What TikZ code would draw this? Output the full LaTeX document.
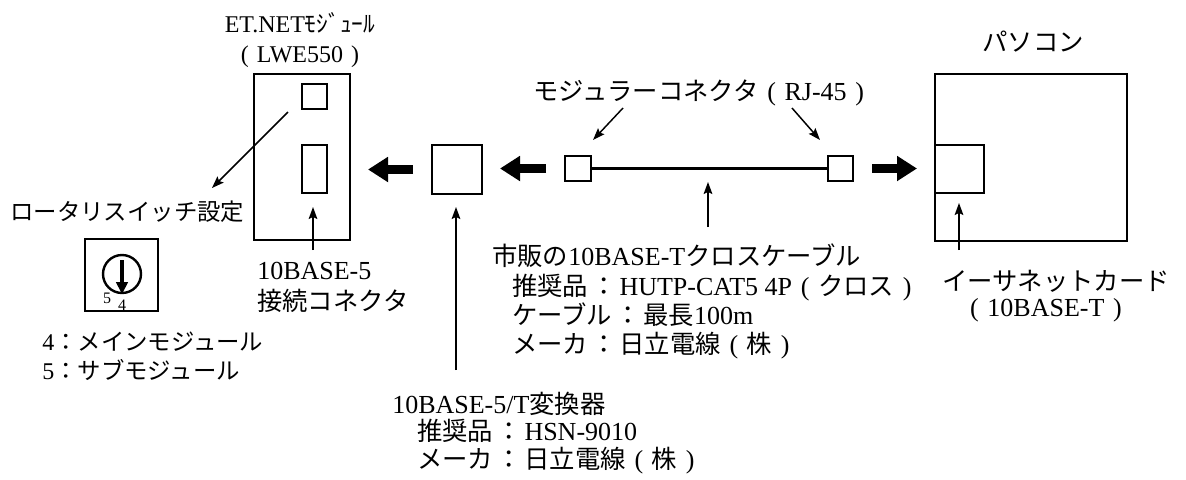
\documentclass[tikz,border=0pt]{standalone}
\usepackage{fontspec}
\setmainfont{Liberation Serif}
\newfontfamily\jp[Scale=0.975]{Noto Sans CJK JP}
\usetikzlibrary{arrows.meta,fit}
\newcommand\J[1]{{\jp #1}}
\newcommand\LP{\makebox[1.0em]{(}}
\newcommand\RP{\makebox[1.0em]{)}}
\newcommand\CO{\makebox[1.2em]{\jp ：}}
\begin{document}
\begin{tikzpicture}[x=0.75pt,y=-0.75pt,
  box/.style={draw, line width=2pt, inner sep=0pt, outer sep=0pt},
  thinarr/.style={line width=1.1pt, -{Stealth[length=9pt,width=6.5pt,inset=1.5pt]}},
  fatarr/.style={line width=6.75pt, -{Triangle[length=15pt,width=18pt]}, shorten >=13.5pt, shorten <=14.25pt},
  lbl/.style={inner sep=0pt, anchor=base west, font=\fontsize{19.5}{22}\selectfont},
  lbls/.style={lbl, font=\fontsize{18}{20}\selectfont},
  small/.style={inner sep=0pt, font=\fontsize{12}{12}\selectfont},
]
\useasboundingbox (0,0) rectangle (1186,479);

% boxes
\node[box, fit={(254,74) (350,240)}] (mod) {};
\node[box, fit={(302,84) (327,109)}] (modsw) {};
\node[box, fit={(302,145) (327,193)}] (modrj) {};
\node[box, fit={(85,239) (158,311)}] (rot) {};
\node[draw, circle, line width=1.8pt, minimum size=28.5pt, inner sep=0pt] (dial) at (122,274) {};
\node[box, fit={(432,145) (482,194)}] (conv) {};
\node[box, fit={(565,156) (591,181)}] (cL) {};
\node[box, fit={(828,156) (853,181)}] (cR) {};
\node[box, fit={(935,74) (1127,241)}] (pc) {};
\node[box, fit={(935,145) (984,193)}] (card) {};

% cable
\draw[line width=1.6pt] (cL.east) -- (cR.west);

% fat arrows (horizontal)
\draw[fatarr] (conv.west) -- (conv.west -| mod.east);
\draw[fatarr] (cL.west) -- (cL.west -| conv.east);
\draw[fatarr] (cR.east) -- (cR.east -| pc.west);

% rotary dial arrow
\draw[line width=2.4pt, -{Triangle[length=9pt,width=8.5pt]}] (122,260) -- (dial.south);
\node[small] at (107,298) {5};
\node[small] at (122,305) {4};

% texts
\node[lbls, anchor=base] (modname) at (300,32) {ET.NET\J{ﾓｼﾞｭｰﾙ}};
\node[lbls, anchor=base] (modtype) at (300,62) {\LP LWE550\RP};
\node[lbls] (rotlbl) at (10,220) {\J{ロータリスイッチ設定}};
\node[lbl] (rj5a) at (257,279) {10BASE-5};
\node[lbl] (rj5b) at (257,310) {\J{接続コネクタ}};
\node[lbls] (m4) at (42,350) {4\J{：メインモジュール}};
\node[lbls] (m5) at (42,379) {5\J{：サブモジュール}};
\node[lbl] (rjlbl) at (533,100) {\J{モジュラーコネクタ}\LP RJ-45\RP};
\node[lbl, anchor=base] (pclbl) at (1033,51) {\J{パソコン}};
\node[lbl] (cab1) at (492,265) {\J{市販の}10BASE-T\J{クロスケーブル}};
\node[lbl] (cab2) at (512,295) {\J{推奨品}\CO HUTP-CAT5 4P\LP\J{クロス}\RP};
\node[lbl] (cab3) at (512,324) {\J{ケーブル}\CO\J{最長}100m};
\node[lbl] (cab4) at (512,353) {\J{メーカ}\CO\J{日立電線}\LP\J{株}\RP};
\node[lbl] (cv1) at (392,413) {10BASE-5/T\J{変換器}};
\node[lbl] (cv2) at (417,440) {\J{推奨品}\CO HSN-9010};
\node[lbl] (cv3) at (417,468) {\J{メーカ}\CO\J{日立電線}\LP\J{株}\RP};
\node[lbl] (card1) at (942,290) {\J{イーサネットカード}};
\node[lbl, anchor=base] (card2) at (1046,316) {\LP 10BASE-T\RP};

% thin arrows
\coordinate (rsA) at (288,112);
\coordinate (rsB) at (212,188);
\draw[thinarr] (rsA) -- (rsB);
\coordinate (rjA) at (313,250);
\draw[thinarr] (rjA) -- (313,207);
\coordinate (cvA) at (456,370);
\draw[thinarr] (cvA) -- (456,207);
\coordinate (cbA) at (708,227);
\draw[thinarr] (cbA) -- (708,182);
\coordinate (rjlA) at (623,108);
\coordinate (rjlB) at (593,140);
\draw[thinarr] (rjlA) -- (rjlB);
\coordinate (rjrA) at (792,108);
\coordinate (rjrB) at (820,140);
\draw[thinarr] (rjrA) -- (rjrB);
\coordinate (cdA) at (959,250);
\draw[thinarr] (cdA) -- (959,203);
\end{tikzpicture}
\end{document}
